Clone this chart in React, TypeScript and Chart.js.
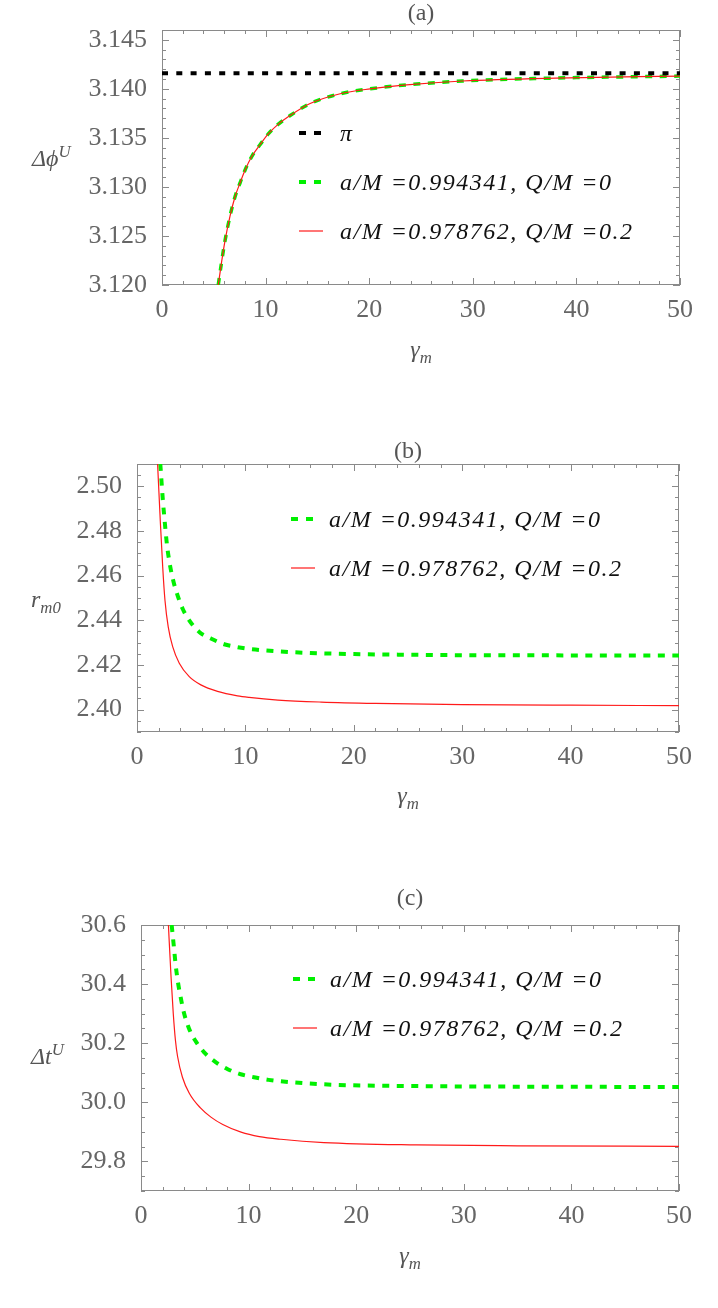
import { useEffect, useRef } from "react";
import { Chart, registerables } from "chart.js";

Chart.register(...registerables);

const xTicks = [0, 10, 20, 30, 40, 50];

// (a) deflection angle vs gamma_m
const phiTicks = [3.12, 3.125, 3.13, 3.135, 3.14, 3.145];
const phiX = [5.43, 5.76, 6.08, 6.56, 7.05, 7.53, 8.01, 8.66, 9.46, 10.26, 11.23, 12.4, 14.3, 17.2, 20.1, 23.6, 29, 38, 50];
const phiKerr = [3.12, 3.1224, 3.1245, 3.127, 3.129, 3.1304, 3.1317, 3.1331, 3.1343, 3.1354, 3.1364, 3.1373, 3.1385, 3.1395, 3.14, 3.1404, 3.1408, 3.1411, 3.1413];
const phiKN = [3.12, 3.1224, 3.1245, 3.127, 3.129, 3.1304, 3.1317, 3.1331, 3.1343, 3.1354, 3.1364, 3.1373, 3.1385, 3.1395, 3.14, 3.1404, 3.1408, 3.1411, 3.1413];
const piX = [0, 50];
const piY = [3.14159, 3.14159];

// (b) r_m0 vs gamma_m
const rTicks = [2.4, 2.42, 2.44, 2.46, 2.48, 2.5];
const rKerrX = [2.15, 2.37, 2.58, 2.76, 3.07, 3.38, 3.75, 4.21, 4.82, 5.74, 6.81, 8.04, 9.27, 10.34, 13, 16, 20, 25, 30, 40, 50];
const rKerr = [2.51, 2.4948, 2.483, 2.474, 2.464, 2.4571, 2.4511, 2.4452, 2.44, 2.4348, 2.4319, 2.4293, 2.428, 2.4272, 2.4261, 2.4254, 2.4249, 2.4246, 2.4244, 2.4243, 2.4242];
const rKNX = [1.9, 2.15, 2.37, 2.58, 2.88, 3.29, 3.9, 4.82, 5.89, 7.43, 9.27, 10.34, 13, 17, 22, 30, 40, 50];
const rKN = [2.51, 2.4844, 2.464, 2.449, 2.4371, 2.4282, 2.4208, 2.4148, 2.4111, 2.4082, 2.4062, 2.4055, 2.4043, 2.4034, 2.4028, 2.4023, 2.402, 2.4018];

// (c) time delay vs gamma_m
const tTicks = [29.8, 30.0, 30.2, 30.4, 30.6];
const tKerrX = [2.85, 3.06, 3.22, 3.44, 3.69, 3.99, 4.46, 5.08, 5.85, 6.94, 8.02, 9.26, 10.49, 11.85, 17, 25.6, 35, 50];
const tKerr = [30.6, 30.525, 30.465, 30.405, 30.355, 30.303, 30.25, 30.207, 30.17, 30.136, 30.113, 30.095, 30.085, 30.076, 30.061, 30.055, 30.053, 30.052];
const tKNX = [2.55, 2.6, 2.8, 3.0, 3.2, 3.4, 3.85, 4.5, 5.5, 6.5, 7.6, 9.3, 11, 13, 17, 25.6, 35, 50];
const tKN = [30.6, 30.56, 30.42, 30.3, 30.21, 30.155, 30.085, 30.03, 29.982, 29.95, 29.925, 29.899, 29.884, 29.875, 29.864, 29.856, 29.853, 29.851];

const kerrLabel = "a/M =0.994341, Q/M =0";
const knLabel = "a/M =0.978762, Q/M =0.2";

const GREEN = "#00f000";
const RED = "#ff1a1a";
const SERIF = "'Liberation Serif', 'Times New Roman', serif";

// frame with inward ticks on all four sides, like the original plot
const frameTicks = {
  id: "frameTicks",
  beforeDatasetsDraw(chart: any, _args: any, opts: any) {
    const { ctx, chartArea: a, scales } = chart;
    ctx.save();
    ctx.strokeStyle = "#8a8a8a";
    ctx.lineWidth = 1;
    ctx.strokeRect(a.left + 0.5, a.top + 0.5, a.right - a.left - 1, a.bottom - a.top - 1);
    const each = (scale: any, step: number, fn: (p: number) => void) => {
      const start = Math.ceil(scale.min / step - 1e-6);
      for (let i = start; i * step <= scale.max + step * 1e-6; i++) {
        fn(Math.round(scale.getPixelForValue(i * step)) + 0.5);
      }
    };
    const onX = (step: number, len: number) =>
      each(scales.x, step, (p) => {
        ctx.beginPath();
        ctx.moveTo(p, a.bottom);
        ctx.lineTo(p, a.bottom - len);
        ctx.moveTo(p, a.top);
        ctx.lineTo(p, a.top + len);
        ctx.stroke();
      });
    const onY = (step: number, len: number) =>
      each(scales.y, step, (p) => {
        ctx.beginPath();
        ctx.moveTo(a.left, p);
        ctx.lineTo(a.left + len, p);
        ctx.moveTo(a.right, p);
        ctx.lineTo(a.right - len, p);
        ctx.stroke();
      });
    onX(opts.xMinor, 4);
    onX(opts.xMajor, 7);
    onY(opts.yMinor, 4);
    onY(opts.yMajor, 7);
    ctx.restore();
  },
};

type Series = { xs: number[]; ys: number[]; color: string; width: number; dash?: number[] };

type PanelProps = {
  top: number;
  height: number;
  axisWidth: number;
  padRight: number;
  series: Series[];
  yMin: number;
  yMax: number;
  yTicks: number[];
  yStep: number;
  yMinor: number;
  digits: number;
};

function Panel(p: PanelProps) {
  const ref = useRef<HTMLCanvasElement>(null);

  useEffect(() => {
    if (!ref.current) return;
    const chart = new Chart(ref.current, {
      type: "line",
      data: {
        datasets: p.series.map((s) => ({
          data: s.xs.map((x, i) => ({ x, y: s.ys[i] })),
          borderColor: s.color,
          borderWidth: s.width,
          borderDash: s.dash || [],
          pointRadius: 0,
          cubicInterpolationMode: "monotone",
          clip: 0,
          fill: false,
        })),
      },
      options: {
        animation: false,
        responsive: true,
        maintainAspectRatio: false,
        layout: { padding: { top: 30, right: p.padRight, left: 0, bottom: 0 } },
        plugins: {
          legend: { display: false },
          tooltip: { enabled: false },
          frameTicks: { xMinor: 2, xMajor: 10, yMinor: p.yMinor, yMajor: p.yStep },
        } as any,
        scales: {
          x: {
            type: "linear",
            min: 0,
            max: 50,
            grid: { display: false },
            border: { display: false },
            afterBuildTicks: (s: any) => {
              s.ticks = xTicks.map((value) => ({ value }));
            },
            ticks: {
              maxRotation: 0,
              padding: 2,
              color: "#666",
              font: { family: SERIF, size: 26 },
            },
            afterFit: (s: any) => {
              s.height = 45;
            },
          },
          y: {
            type: "linear",
            min: p.yMin,
            max: p.yMax,
            grid: { display: false },
            border: { display: false },
            afterBuildTicks: (s: any) => {
              s.ticks = p.yTicks.map((value) => ({ value }));
            },
            ticks: {
              padding: 7,
              color: "#666",
              font: { family: SERIF, size: 26 },
              callback: (v: any) => Number(v).toFixed(p.digits),
            },
            afterFit: (s: any) => {
              s.width = p.axisWidth;
            },
          },
        },
      },
      plugins: [frameTicks],
    });
    return () => chart.destroy();
  }, []);

  return (
    <div style={{ position: "absolute", left: 0, top: p.top, width: 718, height: p.height }}>
      <canvas ref={ref} />
    </div>
  );
}

const math: React.CSSProperties = {
  position: "absolute",
  fontFamily: SERIF,
  fontStyle: "italic",
  color: "#555",
  fontSize: 24,
  lineHeight: 1,
  whiteSpace: "nowrap",
};

function Title({ text, x, y }: { text: string; x: number; y: number }) {
  return (
    <div style={{ ...math, fontStyle: "normal", left: x, top: y, transform: "translate(-50%, -50%)" }}>
      {text}
    </div>
  );
}

function XLabel({ x, y }: { x: number; y: number }) {
  return (
    <div style={{ ...math, left: x, top: y, transform: "translate(-50%, -50%)" }}>
      γ<sub style={{ fontSize: "0.7em" }}>m</sub>
    </div>
  );
}

type LegendItem = { label: string; color: string; width: number; dash?: string };

function Legend({ items, x, textX, y, gap }: { items: LegendItem[]; x: number; textX: number; y: number; gap: number }) {
  return (
    <>
      {items.map((it, i) => (
        <div key={i}>
          <svg width={24} height={8} style={{ position: "absolute", left: x, top: y + i * gap - 4 }}>
            <line x1={0} y1={4} x2={24} y2={4} stroke={it.color} strokeWidth={it.width} strokeDasharray={it.dash} />
          </svg>
          <div
            style={{
              ...math,
              color: "#111",
              fontSize: 24,
              letterSpacing: 1.5,
              left: textX,
              top: y + i * gap,
              transform: "translateY(-50%)",
            }}
          >
            {it.label}
          </div>
        </div>
      ))}
    </>
  );
}

const kerrItem: LegendItem = { label: kerrLabel, color: GREEN, width: 4, dash: "7 8" };
const knItem: LegendItem = { label: knLabel, color: RED, width: 1.2 };

export default function App() {
  return (
    <div style={{ position: "absolute", left: 0, top: 0, width: 718, height: 1308, background: "#fff" }}>
      <Panel
        top={0}
        height={330}
        axisWidth={162}
        padRight={38}
        yMin={3.12}
        yMax={3.146}
        yTicks={phiTicks}
        yStep={0.005}
        yMinor={0.001}
        digits={3}
        series={[
          { xs: piX, ys: piY, color: "#000", width: 4, dash: [6, 8.3] },
          { xs: phiX, ys: phiKN, color: RED, width: 1.2 },
          { xs: phiX, ys: phiKerr, color: GREEN, width: 3.5, dash: [7, 7.5] },
        ]}
      />
      <Title text="(a)" x={421} y={12} />
      <div style={{ ...math, left: 32, top: 157, transform: "translateY(-50%)" }}>
        Δϕ<sup style={{ fontSize: "0.7em" }}>U</sup>
      </div>
      <XLabel x={421} y={352} />
      <Legend
        x={299}
        textX={340}
        y={133}
        gap={49}
        items={[{ label: "π", color: "#000", width: 4, dash: "7 8" }, kerrItem, knItem]}
      />

      <Panel
        top={434}
        height={343}
        axisWidth={137}
        padRight={39}
        yMin={2.39}
        yMax={2.51}
        yTicks={rTicks}
        yStep={0.02}
        yMinor={0.005}
        digits={2}
        series={[
          { xs: rKNX, ys: rKN, color: RED, width: 1.2 },
          { xs: rKerrX, ys: rKerr, color: GREEN, width: 4, dash: [7, 7.5] },
        ]}
      />
      <Title text="(b)" x={408} y={450} />
      <div style={{ ...math, left: 31, top: 602, transform: "translateY(-50%)" }}>
        r<sub style={{ fontSize: "0.7em" }}>m0</sub>
      </div>
      <XLabel x={408} y={798} />
      <Legend x={291} textX={329} y={519} gap={49} items={[kerrItem, knItem]} />

      <Panel
        top={895}
        height={341}
        axisWidth={141}
        padRight={39}
        yMin={29.7}
        yMax={30.6}
        yTicks={tTicks}
        yStep={0.2}
        yMinor={0.05}
        digits={1}
        series={[
          { xs: tKNX, ys: tKN, color: RED, width: 1.2 },
          { xs: tKerrX, ys: tKerr, color: GREEN, width: 4, dash: [7, 7.5] },
        ]}
      />
      <Title text="(c)" x={410} y={897} />
      <div style={{ ...math, left: 31, top: 1055, transform: "translateY(-50%)" }}>
        Δt<sup style={{ fontSize: "0.7em" }}>U</sup>
      </div>
      <XLabel x={410} y={1258} />
      <Legend x={293} textX={330} y={979} gap={49} items={[kerrItem, knItem]} />
    </div>
  );
}
